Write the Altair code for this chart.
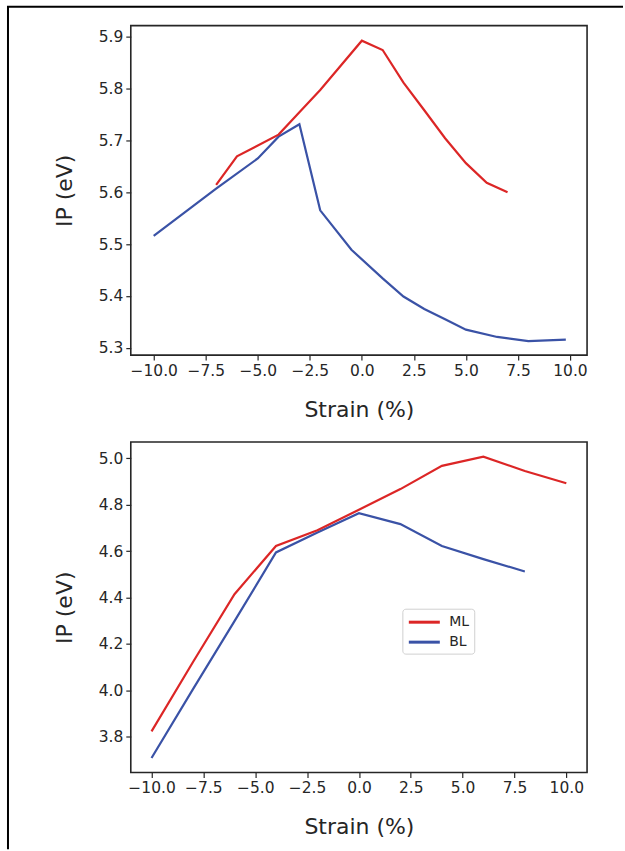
import altair as alt
import pandas as pd

RED = "#dc2626"
BLUE = "#3a52a6"
INK = "#262626"

# ---- top panel data ----
top_ml_x = [-7, -6, -4, -3, -2, 0, 1, 2, 3, 4, 5, 6, 7]
top_ml_y = [5.614, 5.669, 5.711, 5.754, 5.797, 5.892, 5.874, 5.811, 5.758, 5.704, 5.656, 5.618, 5.600]
top_bl_x = [-10, -7, -5, -4, -3, -2, -0.5, 1, 2, 3, 4, 5, 6.5, 8, 9.8]
top_bl_y = [5.516, 5.607, 5.665, 5.707, 5.731, 5.565, 5.489, 5.434, 5.399, 5.375, 5.355, 5.335, 5.321, 5.313, 5.316]

# ---- bottom panel data ----
bot_ml_x = [-10, -8, -6, -4, -2, 0, 2, 4, 6, 8, 10]
bot_ml_y = [3.823, 4.122, 4.414, 4.622, 4.690, 4.778, 4.867, 4.967, 5.007, 4.945, 4.892]
bot_bl_x = [-10, -8, -6, -4, -2, 0, 2, 4, 6, 8]
bot_bl_y = [3.708, 4.005, 4.298, 4.594, 4.680, 4.763, 4.716, 4.622, 4.565, 4.512]

series = ["ML", "BL"]
x_ticks = [-10, -7.5, -5, -2.5, 0, 2.5, 5, 7.5, 10]
top_y_ticks = [5.3, 5.4, 5.5, 5.6, 5.7, 5.8, 5.9]
bot_y_ticks = [3.8, 4.0, 4.2, 4.4, 4.6, 4.8, 5.0]


def frame(mlx, mly, blx, bly):
    rows = [{"strain": x, "ip": y, "series": "BL"} for x, y in zip(blx, bly)]
    rows += [{"strain": x, "ip": y, "series": "ML"} for x, y in zip(mlx, mly)]
    return pd.DataFrame(rows)


top_df = frame(top_ml_x, top_ml_y, top_bl_x, top_bl_y)
bot_df = frame(bot_ml_x, bot_ml_y, bot_bl_x, bot_bl_y)

color_scale = alt.Scale(domain=series, range=[RED, BLUE])

axis_common = dict(
    grid=False, domain=False, tickColor=INK, tickSize=5, tickWidth=1.2,
    labelColor=INK, labelFontSize=15.5, labelFont="DejaVu Sans", labelPadding=3,
    titleColor=INK, titleFont="DejaVu Sans", titleFontWeight="normal",
)


def x_enc(domain):
    return alt.X(
        "strain:Q",
        scale=alt.Scale(domain=domain, nice=False, zero=False),
        axis=alt.Axis(values=x_ticks, format=".1f", title="Strain (%)",
                      titleFontSize=22, titlePadding=21, **axis_common),
    )


def y_enc(domain, ticks):
    return alt.Y(
        "ip:Q",
        scale=alt.Scale(domain=domain, nice=False, zero=False),
        axis=alt.Axis(values=ticks, format=".1f", title="IP (eV)",
                      titleFontSize=22, titlePadding=22, **axis_common),
    )


top_lines = alt.Chart(top_df).mark_line(strokeWidth=2.2).encode(
    x=x_enc([-11.1, 10.82]),
    y=y_enc([5.286, 5.921], top_y_ticks),
    color=alt.Color("series:N", scale=color_scale, legend=None),
)

border_df = pd.DataFrame({"b": [0]})
left_border = alt.Chart(border_df).mark_rule(color="black", strokeWidth=2).encode(
    x=alt.value(-123), y=alt.value(-19), y2=alt.value(825)
)
top_border = alt.Chart(border_df).mark_rule(color="black", strokeWidth=2).encode(
    x=alt.value(-124), x2=alt.value(493), y=alt.value(-19)
)

top = alt.layer(top_lines, left_border, top_border).properties(width=457, height=330)

bottom = alt.Chart(bot_df).mark_line(strokeWidth=2.2).encode(
    x=x_enc([-11, 11]),
    y=y_enc([3.646, 5.070], bot_y_ticks),
    color=alt.Color(
        "series:N", scale=color_scale,
        legend=alt.Legend(
            title=None, orient="none", legendX=272, legendY=167,
            symbolType="M-2.07,0H2.07", symbolSize=225, symbolStrokeWidth=3,
            symbolOffset=8.5, rowPadding=4,
            labelFontSize=14, labelColor=INK, labelFont="DejaVu Sans", labelOffset=16,
            strokeColor="#d0d0d0", fillColor="white", cornerRadius=3, padding=4.5,
        ),
    ),
).properties(width=457, height=331)

chart = (
    alt.vconcat(top, bottom, spacing=87, bounds="flush")
    .resolve_scale(color="independent", x="independent", y="independent")
    .resolve_legend(color="independent")
    .properties(padding={"left": 5, "top": 4, "right": 0, "bottom": 0})
    .configure(font="DejaVu Sans", background="white")
    .configure_view(stroke=INK, strokeWidth=1.6)
)

chart.save("out.html", embed_options={"renderer": "svg", "actions": False})
